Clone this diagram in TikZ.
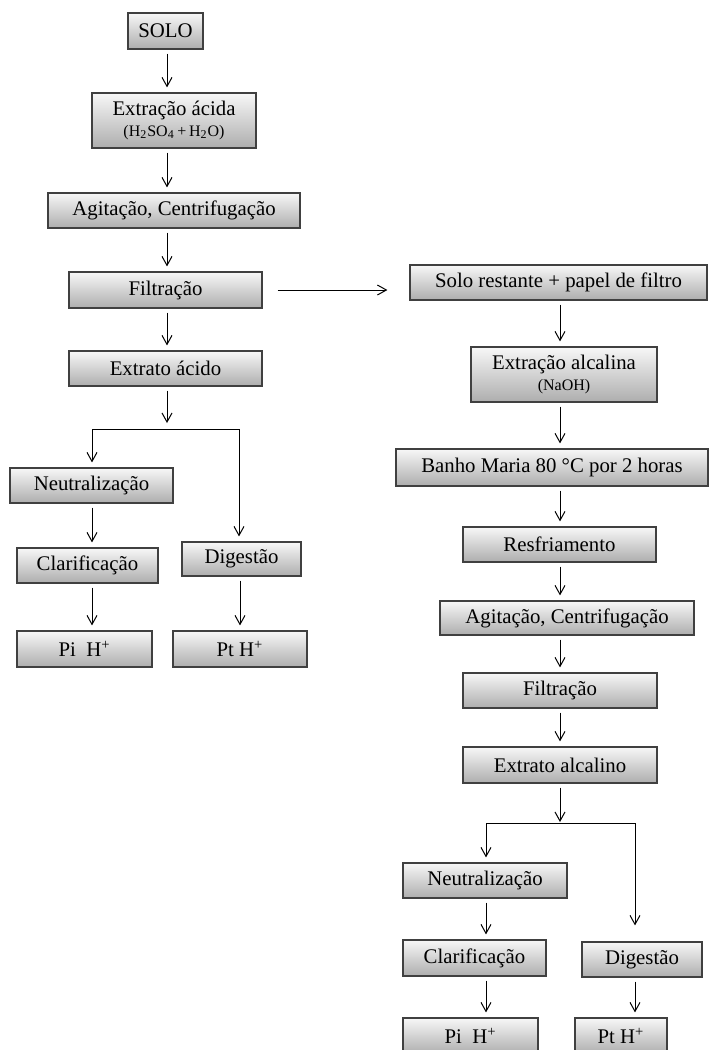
\documentclass[tikz,border=0pt]{standalone}
\usepackage{fontspec}
\setmainfont{Liberation Serif}
\usetikzlibrary{calc,positioning}
\usetikzlibrary{arrows.meta}
\tikzset{>={Straight Barb[width=5pt,length=4.5pt]}}

\begin{document}
\begin{tikzpicture}[x=0.5pt,y=-0.5pt]
  \tikzstyle{pnode} = [draw=black!75, line width=0.6pt, rectangle, top color=black!3, bottom color=black!32, inner sep=0pt, align=center, font=\fontsize{10.4}{12}\selectfont]
  \tikzstyle{flow} = [->, line width=0.5pt, shorten <=2pt, shorten >=2.5pt]
  \tikzstyle{jline} = [line width=0.5pt]
  \newcommand{\subline}[1]{{\fontsize{8}{9}\selectfont #1}}

  \path[use as bounding box, clip] (0,0) rectangle (710,1050);

  % acid extraction (left column)
  \node[pnode, minimum width=37.5pt, minimum height=18pt] (solo) at (165.5,31) {SOLO};
  \node[pnode, minimum width=82pt, minimum height=27.5pt] (extac) at (174,120.5) {Extração ácida\\[-1.5pt]\subline{(H\textsubscript{2}SO\textsubscript{4}\,+\,H\textsubscript{2}O)}};
  \node[pnode, minimum width=126pt, minimum height=17.5pt] (agit) at (174,210.5) {Agitação, Centrifugação};
  \node[pnode, minimum width=96.5pt, minimum height=18pt] (filt) at (165.5,290) {Filtração};
  \node[pnode, minimum width=96.5pt, minimum height=17.5pt] (extr) at (165.5,368.5) {Extrato ácido};

  \coordinate (jc) at (167,429);
  \coordinate (jl) at (92,429);
  \coordinate (jr) at (239,429);

  \node[pnode, minimum width=81.5pt, minimum height=17.5pt] (neut) at (91.5,485.5) {Neutralização};
  \node[pnode, minimum width=70.5pt, minimum height=17.5pt] (clar) at (87.5,565.5) {Clarificação};
  \node[pnode, minimum width=59.5pt, minimum height=17pt] (dig) at (241.5,559) {Digestão};
  \node[pnode, minimum width=67.5pt, minimum height=18pt] (pi) at (84.5,649) {Pi\ \ H\textsuperscript{+}};
  \node[pnode, minimum width=67pt, minimum height=18pt] (pt) at (240,649) {Pt H\textsuperscript{+}};

  % alkaline extraction (right column)
  \node[pnode, minimum width=148.5pt, minimum height=17.5pt] (rest) at (558.5,282.5) {Solo restante + papel de filtro};
  \node[pnode, minimum width=93pt, minimum height=27.5pt] (alcal) at (564,374.5) {Extração alcalina\\[-1.5pt]\subline{(NaOH)}};
  \node[pnode, minimum width=156pt, minimum height=18.5pt] (banho) at (552,467.5) {Banho Maria 80 °C por 2 horas};
  \node[pnode, minimum width=96.5pt, minimum height=17.5pt] (resf) at (559.5,544.5) {Resfriamento};
  \node[pnode, minimum width=127pt, minimum height=17pt] (agit2) at (567,618) {Agitação, Centrifugação};
  \node[pnode, minimum width=97pt, minimum height=17.5pt] (filt2) at (560,690.5) {Filtração};
  \node[pnode, minimum width=97pt, minimum height=18pt] (extr2) at (560,765) {Extrato alcalino};

  \coordinate (kc) at (560,823);
  \coordinate (kl) at (486,823);
  \coordinate (kr) at (635,823);

  \node[pnode, minimum width=82pt, minimum height=17.5pt] (neut2) at (485,880.5) {Neutralização};
  \node[pnode, minimum width=71.5pt, minimum height=18pt] (clar2) at (474.5,958) {Clarificação};
  \node[pnode, minimum width=60pt, minimum height=17.5pt] (dig2) at (642,959.5) {Digestão};
  \node[pnode, minimum width=67.5pt, minimum height=18pt] (pi2) at (470.5,1036) {Pi\ \ H\textsuperscript{+}};
  \node[pnode, minimum width=46pt, minimum height=18pt] (pt2) at (621,1036) {Pt H\textsuperscript{+}};

  % edges left column
  \draw[flow] (solo.south -| jc) -- (extac.north -| jc);
  \draw[flow] (extac.south -| jc) -- (agit.north -| jc);
  \draw[flow] (agit.south -| jc) -- (filt.north -| jc);
  \draw[flow] (filt.south -| jc) -- (extr.north -| jc);
  \draw[flow, shorten >=3pt] (extr.south -| jc) -- (jc);
  \draw[jline] (jl) -- (jr);
  \draw[flow, shorten <=0pt] (jl) -- (neut.north -| jl);
  \draw[flow, shorten <=0pt] (jr) -- (dig.north -| jr);
  \draw[flow] (neut.south -| jl) -- (clar.north -| jl);
  \draw[flow] (clar.south -| jl) -- (pi.north -| jl);
  \draw[flow] (dig.south -| pt) -- (pt.north);

  % edge to right column
  \draw[flow, shorten <=7.5pt, shorten >=11pt] (filt.east) -- (filt.east -| rest.west);

  % edges right column
  \draw[flow] (rest.south -| kc) -- (alcal.north -| kc);
  \draw[flow] (alcal.south -| kc) -- (banho.north -| kc);
  \draw[flow] (banho.south -| kc) -- (resf.north -| kc);
  \draw[flow] (resf.south -| kc) -- (agit2.north -| kc);
  \draw[flow] (agit2.south -| kc) -- (filt2.north -| kc);
  \draw[flow] (filt2.south -| kc) -- (extr2.north -| kc);
  \draw[flow, shorten >=0.5pt] (extr2.south -| kc) -- (kc);
  \draw[jline] (kl) -- (kr);
  \draw[flow, shorten <=0pt] (kl) -- (neut2.north -| kl);
  \draw[flow, shorten <=0pt, shorten >=8pt] (kr) -- (dig2.north -| kr);
  \draw[flow] (neut2.south -| kl) -- (clar2.north -| kl);
  \draw[flow] (clar2.south -| kl) -- (pi2.north -| kl);
  \draw[flow] (dig2.south -| kr) -- (pt2.north -| kr);
\end{tikzpicture}
\end{document}
